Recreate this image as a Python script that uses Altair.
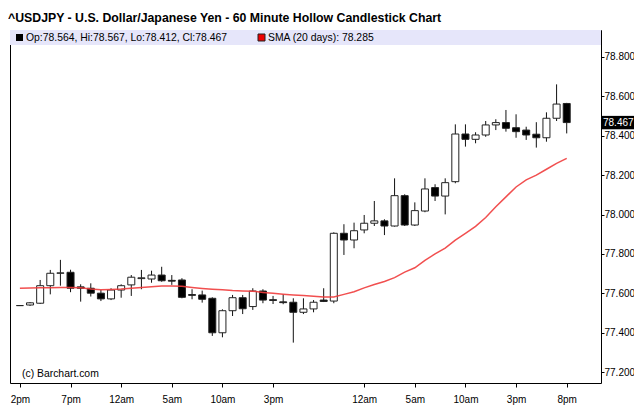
import altair as alt
import pandas as pd

# ---- data (60-minute bars, index 0..54) ----
opens = [77.538, 77.541, 77.550, 77.639, 77.702, 77.707, 77.633, 77.626, 77.601, 77.572,
         77.617, 77.643, 77.675, 77.673, 77.693, 77.666, 77.668, 77.594, 77.592, 77.575,
         77.400, 77.512, 77.578, 77.533, 77.612, 77.568, 77.557, 77.555, 77.504, 77.521,
         77.566, 77.561, 77.905, 77.871, 77.922, 77.956, 77.968, 77.942, 78.096, 77.947,
         78.018, 78.137, 78.094, 78.167, 78.409, 78.382, 78.404, 78.455, 78.467, 78.441,
         78.429, 78.408, 78.390, 78.489, 78.564]
highs = [77.540, 77.556, 77.668, 77.719, 77.770, 77.720, 77.646, 77.651, 77.617, 77.626,
         77.646, 77.693, 77.719, 77.715, 77.735, 77.693, 77.677, 77.621, 77.614, 77.580,
         77.519, 77.592, 77.592, 77.626, 77.621, 77.587, 77.595, 77.575, 77.575, 77.566,
         77.626, 77.910, 77.951, 77.959, 77.998, 78.069, 77.976, 78.184, 78.103, 78.062,
         78.184, 78.154, 78.184, 78.458, 78.458, 78.418, 78.475, 78.484, 78.531, 78.509,
         78.446, 78.469, 78.519, 78.661, 78.567]
lows = [77.536, 77.536, 77.546, 77.595, 77.639, 77.606, 77.558, 77.584, 77.561, 77.566,
        77.578, 77.587, 77.621, 77.654, 77.659, 77.643, 77.575, 77.570, 77.553, 77.384,
        77.377, 77.485, 77.495, 77.516, 77.550, 77.546, 77.545, 77.350, 77.495, 77.504,
        77.556, 77.550, 77.795, 77.829, 77.905, 77.942, 77.896, 77.939, 77.942, 77.942,
        78.012, 78.069, 78.001, 78.159, 78.345, 78.362, 78.395, 78.429, 78.421, 78.390,
        78.379, 78.340, 78.370, 78.475, 78.412]
closes = [77.538, 77.552, 77.639, 77.702, 77.704, 77.626, 77.626, 77.601, 77.572, 77.617,
          77.639, 77.682, 77.679, 77.693, 77.664, 77.662, 77.580, 77.590, 77.570, 77.400,
          77.512, 77.578, 77.522, 77.612, 77.566, 77.564, 77.553, 77.504, 77.521, 77.555,
          77.559, 77.905, 77.871, 77.918, 77.956, 77.968, 77.942, 78.096, 77.947, 78.020,
          78.130, 78.094, 78.162, 78.409, 78.382, 78.404, 78.455, 78.467, 78.438, 78.421,
          78.404, 78.390, 78.489, 78.561, 78.467]
sma20 = [77.626, 77.627, 77.628, 77.629, 77.630, 77.630, 77.628, 77.622, 77.619, 77.620,
         77.622, 77.626, 77.630, 77.634, 77.637, 77.638, 77.636, 77.630, 77.625, 77.621,
         77.618, 77.614, 77.612, 77.611, 77.605, 77.600, 77.596, 77.592, 77.589, 77.585,
         77.582, 77.582, 77.595, 77.608, 77.628, 77.645, 77.660, 77.680, 77.708, 77.730,
         77.768, 77.800, 77.830, 77.870, 77.905, 77.940, 77.985, 78.040, 78.090, 78.140,
         78.176, 78.200, 78.230, 78.260, 78.285]

tick_idx = [0, 5, 10, 15, 20, 25, 34, 39, 44, 49, 54]
tick_lbl = ["2pm", "7pm", "12am", "5am", "10am", "3pm", "12am", "5am", "10am", "3pm", "8pm"]
y_ticks = [77.2, 77.4, 77.6, 77.8, 78.0, 78.2, 78.4, 78.6, 78.8]

title_text = "^USDJPY - U.S. Dollar/Japanese Yen - 60 Minute Hollow Candlestick Chart"
ohlc_text = "Op:78.564, Hi:78.567, Lo:78.412, Cl:78.467"
sma_text = "SMA (20 days): 78.285"
last_price = 78.467

# ---- build table ----
df = pd.DataFrame({"i": list(range(len(opens))), "o": opens, "h": highs,
                   "l": lows, "c": closes, "sma": sma20})
df["dir"] = ["down" if c < o else "up" for o, c in zip(opens, closes)]
one = pd.DataFrame({"a": [0]})

W, H = 591, 353
FONT = "Liberation Sans"
xs = alt.Scale(domain=[-0.485, (W - 5) / 10.3], nice=False, zero=False)
ys = alt.Scale(domain=[77.145, 78.937], nice=False, zero=False)

expr = "''"
for v, t in zip(reversed(tick_idx), reversed(tick_lbl)):
    expr = f"datum.value == {v} ? '{t}' : ({expr})"

xaxis = alt.Axis(values=tick_idx, labelExpr=expr, grid=False, domain=False,
                 tickSize=4, tickColor="black", labelColor="black", labelFontSize=10,
                 labelFont=FONT, labelPadding=7, title=None, labelFlush=False)
yaxis = alt.Axis(orient="right", values=y_ticks, format=".3f", grid=False, domain=False,
                 tickSize=3, tickColor="black", labelColor="black", labelFontSize=10,
                 labelFont=FONT, labelPadding=0, title=None)

band = alt.Chart(one).mark_rect(color="#e6e6fa").encode(
    x=alt.value(0), x2=alt.value(W), y=alt.value(0), y2=alt.value(15))

wicks = alt.Chart(df).mark_rule(color="#111111", strokeWidth=1).encode(
    x=alt.X("i:Q", scale=xs, axis=xaxis),
    y=alt.Y("l:Q", scale=ys, axis=yaxis),
    y2="h:Q")

bodies = alt.Chart(df).mark_bar(size=7, stroke="#222222", strokeWidth=1).encode(
    x=alt.X("i:Q", scale=xs),
    y=alt.Y("o:Q", scale=ys),
    y2="c:Q",
    fill=alt.Fill("dir:N", scale=alt.Scale(domain=["up", "down"], range=["white", "black"]),
                  legend=None))

sma_line = alt.Chart(df).mark_line(color="#f03c3c", strokeWidth=1.5, opacity=0.9).encode(
    x=alt.X("i:Q", scale=xs), y=alt.Y("sma:Q", scale=ys))

sq_black = alt.Chart(one).mark_square(size=49, color="black", opacity=1).encode(
    x=alt.value(9.5), y=alt.value(7.5))
sq_red = alt.Chart(one).mark_square(size=49, fill="#ee0000", stroke="#222222",
                                    strokeWidth=1, opacity=1).encode(
    x=alt.value(251.5), y=alt.value(7.5))
txt_ohlc = alt.Chart(one).mark_text(text=ohlc_text, align="left", baseline="middle",
                                    font=FONT, fontSize=10.4, color="black").encode(
    x=alt.value(16), y=alt.value(8))
txt_sma = alt.Chart(one).mark_text(text=sma_text, align="left", baseline="middle",
                                   font=FONT, fontSize=10.4, color="black").encode(
    x=alt.value(258), y=alt.value(8))
txt_copy = alt.Chart(one).mark_text(text="(c) Barchart.com", align="left", baseline="middle",
                                    font=FONT, fontSize=10.4, color="black").encode(
    x=alt.value(12), y=alt.value(344))

last_box = alt.Chart(one).mark_rect(color="black").encode(
    x=alt.value(W + 1), x2=alt.value(W + 33),
    y=alt.datum(last_price + 0.034, scale=ys), y2=alt.datum(last_price - 0.034))
last_txt = alt.Chart(one).mark_text(text=f"{last_price:.3f}", align="left", baseline="middle",
                                    font=FONT, fontSize=10, color="white").encode(
    x=alt.value(W + 2), y=alt.datum(last_price, scale=ys))

chart = alt.layer(band, wicks, bodies, sma_line, sq_black, sq_red, txt_ohlc, txt_sma,
                  txt_copy, last_box, last_txt).properties(
    width=W, height=H,
    title=alt.TitleParams(title_text, anchor="start", font=FONT, fontSize=12.3,
                          fontWeight="bold", color="black", dx=-2, offset=6),
    autosize="none",
    padding={"left": 2, "top": 22, "right": 626 - 2 - W, "bottom": 24},
    background="white",
).configure_view(stroke="black", strokeWidth=1)

chart.save("out.html", embed_options={"renderer": "svg", "actions": False})
